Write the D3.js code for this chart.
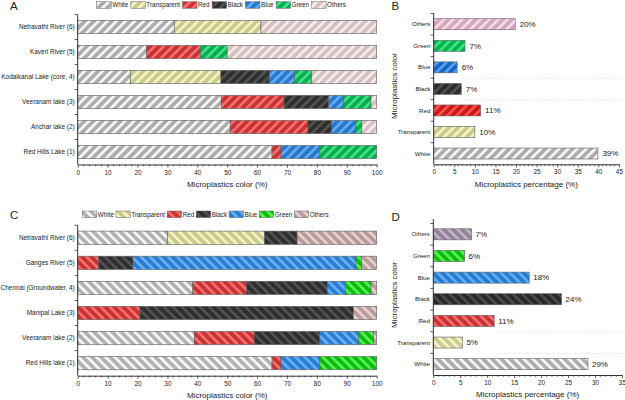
<!DOCTYPE html>
<html><head><meta charset="utf-8">
<script src="https://cdn.jsdelivr.net/npm/d3@7/dist/d3.min.js"></script>
<style>body{margin:0;background:#fff}svg{display:block;font-family:"Liberation Sans",Arial,sans-serif}</style>
</head><body><svg id="c" width="625" height="400"></svg>
<script>
// ---------------- DATA ----------------
const colorKeys = ["White","Transparent","Red","Black","Blue","Green","Others"];

const catsA = ["Netravathi River (6)","Kaveri River (5)","Kodaikanal Lake (core, 4)","Veeranam lake (3)","Anchar lake (2)","Red Hills Lake (1)"];
const aWhite       = [32.3, 23, 17.6, 48, 51, 65];
const aTransparent = [29, 0, 30.3, 0, 0, 0];
const aRed         = [0, 18, 0, 21, 26, 3];
const aBlack       = [0, 0, 16.3, 15, 8, 0];
const aBlue        = [0, 0, 8.3, 5, 8, 13];
const aGreen       = [0, 9, 5.8, 9.1, 2, 19];
const aOthers      = [38.7, 50, 21.7, 1.9, 5, 0];

const catsC = ["Netravathi River (6)","Ganges River (5)","Chennai (Groundwater, 4)","Manipal Lake (3)","Veeranam lake (2)","Red Hills lake (1)"];
const cWhite       = [30, 0, 38.5, 0, 39, 65];
const cTransparent = [32.5, 0, 0, 0, 0, 0];
const cRed         = [0, 7, 18, 20.8, 20, 3];
const cBlack       = [10.9, 11.5, 27, 71.4, 22, 0];
const cBlue        = [0, 74.6, 6, 0, 13, 13];
const cGreen       = [0, 1.8, 8.6, 0, 4.9, 19];
const cOthers      = [26.6, 5.1, 1.9, 7.8, 1.1, 0];

const bValues = [39.9, 10, 11.4, 6.7, 5.7, 7.6, 19.8];
const bLabels = ["39%","10%","11%","7%","6%","7%","20%"];
const dValues = [28.7, 5.4, 11.3, 23.8, 17.8, 5.8, 7.1];
const dLabels = ["29%","5%","11%","24%","18%","6%","7%"];

const stackTicks = [0,10,20,30,40,50,60,70,80,90,100];
const bTicks = [0,5,10,15,20,25,30,35,40,45];
const dTicks = [0,5,10,15,20,25,30,35];

// ---------------- STYLE ----------------
const palA = {White:["#bdbdbd","#ffffff"],Transparent:["#dcdc98","#f7f7cf"],Red:["#e03434","#f37a7a"],Black:["#323232","#565656"],Blue:["#2a82e0","#6cb2f4"],Green:["#00bf55","#52e28e"],Others:["#e8d2d2","#fbefef"]};
const palC = {White:["#c2c2c2","#ffffff"],Transparent:["#dcdc98","#f7f7cf"],Red:["#e03434","#f37a7a"],Black:["#323232","#565656"],Blue:["#2e88e8","#70b6f6"],Green:["#0acf0a","#66f266"],Others:["#c9a9a9","#ead6d6"]};
const palB = {White:["#bdbdbd","#ffffff"],Transparent:["#dcdc98","#f7f7cf"],Red:["#e01818","#ff5a5a"],Black:["#303030","#545454"],Blue:["#1a6fd6","#62a8f0"],Green:["#00c552","#48e890"],Others:["#e8b6ce","#f9e2ee"]};
const palD = {White:["#bdbdbd","#ffffff"],Transparent:["#e0e09e","#f8f8d2"],Red:["#e03434","#f37a7a"],Black:["#2c2c2c","#505050"],Blue:["#2a86e6","#6cb2f4"],Green:["#0acf0a","#66f266"],Others:["#9e8ea6","#c8bacd"]};

const svg = d3.select("#c");
const defs = svg.append("defs");
const textCol = "#222";
const axisCol = "#333";

function makePatterns(prefix, pal, angle){
  colorKeys.forEach(k=>{
    const [base, stripe] = pal[k];
    const p = defs.append("pattern").attr("id", prefix+k).attr("patternUnits","userSpaceOnUse")
      .attr("width",6.4).attr("height",6.4).attr("patternTransform",`rotate(${angle})`);
    p.append("rect").attr("width",6.4).attr("height",6.4).attr("fill",base);
    for(let i=0;i<4;i++){
      p.append("rect").attr("x",2.6).attr("y",i*1.6).attr("width",3.8).attr("height",0.8).attr("fill","#000").attr("opacity",0.16);
    }
    p.append("rect").attr("x",0).attr("y",0).attr("width",2.6).attr("height",6.4).attr("fill",stripe).attr("opacity",0.9);
  });
}
makePatterns("pA", palA, 45);
makePatterns("pC", palC, -45);
makePatterns("pB", palB, 45);
makePatterns("pD", palD, -45);

function letter(t,x,y){
  svg.append("text").attr("x",x).attr("y",y).attr("dy","0.35em").attr("font-size",11.5).attr("fill",textCol).text(t);
}

function xAxisDraw(g, x, y0, ticks, minorStep){
  const ax = d3.axisBottom(x).tickValues(ticks).tickSize(3).tickPadding(2.5).tickSizeOuter(0);
  const ga = g.append("g").attr("transform",`translate(0,${y0})`).call(ax);
  ga.select(".domain").attr("stroke",axisCol).attr("stroke-width",1);
  ga.selectAll(".tick line").attr("stroke",axisCol).attr("stroke-width",0.8);
  ga.selectAll(".tick text").attr("font-size",6.4).attr("fill",textCol).attr("font-family","Liberation Sans, Arial, sans-serif");
  const dom = x.domain();
  const minors = d3.range(dom[0], dom[1]+1e-9, minorStep).filter(v=>!ticks.includes(v));
  g.append("g").selectAll("line").data(minors).join("line")
    .attr("x1",d=>x(d)).attr("x2",d=>x(d)).attr("y1",y0).attr("y2",y0+1.8)
    .attr("stroke",axisCol).attr("stroke-width",0.7);
}

function yAxisDraw(g, y, xPos, topExtra, cats){
  const r = y.range();
  const top = Math.min(r[0], r[1]), bot = Math.max(r[0], r[1]);
  g.append("line").attr("x1",xPos).attr("x2",xPos).attr("y1",top-topExtra).attr("y2",bot).attr("stroke",axisCol).attr("stroke-width",1);
  const step = y.step();
  const bounds = cats.map(c=>y(c)-(step-y.bandwidth())/2);
  g.append("g").selectAll("line").data(bounds).join("line")
    .attr("x1",xPos-3).attr("x2",xPos).attr("y1",d=>d).attr("y2",d=>d)
    .attr("stroke",axisCol).attr("stroke-width",0.8);
}

function legend(prefix, x0, yc, gap){
  const g = svg.append("g");
  let x = x0;
  colorKeys.forEach(k=>{
    g.append("rect").attr("x",x).attr("y",yc-3.3).attr("width",14.5).attr("height",6.6)
      .attr("fill",`url(#${prefix}${k})`).attr("stroke","#666").attr("stroke-width",0.5);
    const t = g.append("text").attr("x",x+15.5).attr("y",yc).attr("dy","0.35em").attr("font-size",6.3).attr("fill",textCol).text(k);
    x = x + 15.5 + t.node().getComputedTextLength() + gap;
  });
}

function stackedPanel(cfg){
  const g = svg.append("g");
  const rows = cfg.cats.map((c,i)=>{ const o={cat:c}; colorKeys.forEach(k=>o[k]=cfg.series[k][i]); return o; });
  const stacked = d3.stack().keys(colorKeys)(rows);
  const x = d3.scaleLinear().domain([0,100]).range([cfg.x0,cfg.x1]);
  const y = d3.scaleBand().domain(cfg.cats).range([cfg.yTop,cfg.yBot]).paddingInner(0.47).paddingOuter(0.235);
  stacked.forEach(s=>{
    g.append("g").selectAll("rect").data(s.filter(d=>d[1]-d[0]>0)).join("rect")
      .attr("x",d=>x(d[0])).attr("width",d=>x(d[1])-x(d[0]))
      .attr("y",d=>y(d.data.cat)).attr("height",y.bandwidth())
      .attr("fill",`url(#${cfg.prefix}${s.key})`).attr("stroke","#5e5e5e").attr("stroke-width",0.6);
  });
  g.append("g").selectAll("text").data(cfg.cats).join("text")
    .attr("x",cfg.x0-3).attr("y",d=>y(d)+y.bandwidth()/2).attr("dy","0.35em").attr("text-anchor","end")
    .attr("font-size",6.45).attr("fill",textCol).text(d=>d);
  yAxisDraw(g, y, cfg.x0, 0, cfg.cats);
  xAxisDraw(g, x, cfg.yBot, stackTicks, 2);
  g.append("text").attr("x",(cfg.x0+cfg.x1)/2).attr("y",cfg.titleY).attr("dy","0.35em").attr("text-anchor","middle")
    .attr("font-size",8).attr("fill",textCol).text("Microplastics color (%)");
}

function simplePanel(cfg){
  const g = svg.append("g");
  const x = d3.scaleLinear().domain([0,cfg.max]).range([cfg.x0,cfg.x1]);
  const y = d3.scaleBand().domain(colorKeys).range([cfg.yBot,cfg.yTop]).paddingInner(0.49).paddingOuter(0.245);
  // faint dashed guide lines (below the band of each listed category)
  const gapH = (y.step()-y.bandwidth())/2;
  g.append("g").selectAll("line").data(cfg.guides).join("line")
    .attr("x1",cfg.guideX).attr("x2",cfg.x1+3)
    .attr("y1",k=>y(k)+y.bandwidth()+gapH).attr("y2",k=>y(k)+y.bandwidth()+gapH)
    .attr("stroke","#d0d0d0").attr("stroke-width",0.6).attr("stroke-dasharray","2,1.5");
  const data = colorKeys.map((k,i)=>({k, v:cfg.values[i], l:cfg.labels[i]}));
  g.append("g").selectAll("rect").data(data).join("rect")
    .attr("x",x(0)).attr("width",d=>x(d.v)-x(0)).attr("y",d=>y(d.k)).attr("height",y.bandwidth())
    .attr("fill",d=>`url(#${cfg.prefix}${d.k})`).attr("stroke","#5e5e5e").attr("stroke-width",0.6);
  g.append("g").selectAll("text").data(data).join("text")
    .attr("x",d=>x(d.v)+cfg.labOff).attr("y",d=>y(d.k)+y.bandwidth()/2).attr("dy","0.35em")
    .attr("font-size",8).attr("fill",textCol).text(d=>d.l);
  g.append("g").selectAll("text").data(colorKeys).join("text")
    .attr("x",cfg.x0-3.4).attr("y",d=>y(d)+y.bandwidth()/2).attr("dy","0.35em").attr("text-anchor","end")
    .attr("font-size",6.1).attr("fill",textCol).text(d=>d);
  yAxisDraw(g, y, cfg.x0, cfg.topExtra, colorKeys);
  xAxisDraw(g, x, cfg.yBot, cfg.ticks, 1);
  g.append("text").attr("x",(cfg.x0+cfg.x1)/2).attr("y",cfg.titleY).attr("dy","0.35em").attr("text-anchor","middle")
    .attr("font-size",8).attr("fill",textCol).text("Microplastics percentage (%)");
  g.append("text").attr("transform",`translate(${cfg.ytX},${cfg.ytY}) rotate(-90)`).attr("dy","0.35em").attr("text-anchor","middle")
    .attr("font-size",8).attr("fill",textCol).text("Microplastics color");
}

stackedPanel({prefix:"pA", cats:catsA,
  series:{White:aWhite,Transparent:aTransparent,Red:aRed,Black:aBlack,Blue:aBlue,Green:aGreen,Others:aOthers},
  x0:77.7, x1:376.7, yTop:14.5, yBot:164.5, titleY:184});
stackedPanel({prefix:"pC", cats:catsC,
  series:{White:cWhite,Transparent:cTransparent,Red:cRed,Black:cBlack,Blue:cBlue,Green:cGreen,Others:cOthers},
  x0:77.7, x1:376.7, yTop:225.2, yBot:375.7, titleY:395.5});
legend("pA", 96.7, 5, 2.5);
legend("pC", 82.3, 214.3, 2);

simplePanel({prefix:"pB", values:bValues, labels:bLabels, ticks:bTicks, max:45,
  x0:433.7, x1:618.9, yTop:13.5, yBot:164.3, topExtra:0.5, labOff:4.5, titleY:184, ytX:394.5, ytY:86,
  guides:["Blue","Black"], guideX:463});
simplePanel({prefix:"pD", values:dValues, labels:dLabels, ticks:dTicks, max:35,
  x0:433.3, x1:621.9, yTop:223.5, yBot:375, topExtra:4.5, labOff:4, titleY:394.5, ytX:394.5, ytY:295,
  guides:["Red","Transparent"], guideX:497});

letter("A", 10, 5.5);
letter("B", 391.5, 6);
letter("C", 10, 214.5);
letter("D", 391.5, 216.5);
</script></body></html>
